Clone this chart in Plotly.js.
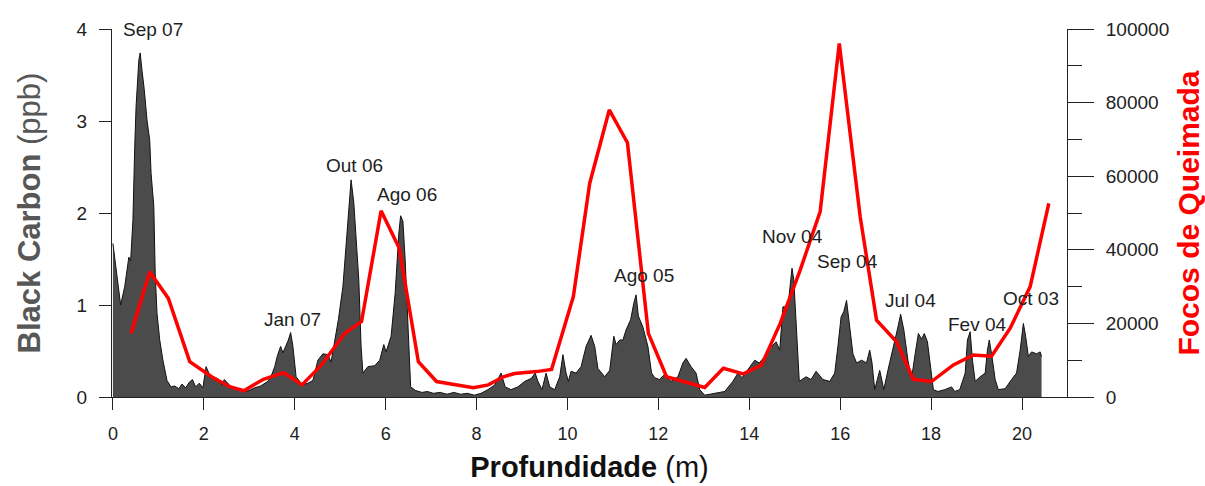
<!DOCTYPE html>
<html>
<head>
<meta charset="utf-8">
<script src="https://cdn.plot.ly/plotly-3.0.1.min.js"></script>
<style>
  html, body { margin: 0; padding: 0; background: #ffffff; }
  #chart { width: 1205px; height: 486px; }
</style>
</head>
<body>
<div id="chart"></div>
<script>
// Black carbon profile along the core (depth in m, concentration in ppb)
const depth = [0.00,0.07,0.17,0.26,0.35,0.39,0.44,0.48,0.51,0.57,0.60,0.64,0.69,0.75,0.81,0.84,0.90,0.93,0.97,1.03,
  1.10,1.19,1.28,1.36,1.45,1.52,1.60,1.68,1.75,1.82,1.90,1.98,2.05,2.12,2.20,2.30,2.40,2.45,2.53,2.62,
  2.75,2.90,3.00,3.12,3.25,3.41,3.50,3.56,3.62,3.69,3.74,3.80,3.86,3.91,3.96,4.03,4.10,4.14,4.22,4.29,
  4.40,4.51,4.62,4.73,4.80,4.88,4.96,5.06,5.13,5.21,5.24,5.30,5.35,5.41,5.46,5.50,5.61,5.76,5.87,5.96,
  6.01,6.12,6.21,6.29,6.33,6.38,6.43,6.49,6.55,6.66,6.80,6.92,7.05,7.20,7.35,7.50,7.65,7.80,7.95,8.10,
  8.25,8.40,8.54,8.63,8.76,8.91,9.06,9.20,9.29,9.35,9.44,9.53,9.61,9.72,9.83,9.90,9.97,10.02,10.08,10.19,
  10.30,10.41,10.52,10.60,10.67,10.82,10.93,11.02,11.07,11.15,11.22,11.29,11.39,11.46,11.51,11.56,11.66,11.77,11.85,11.92,
  12.02,12.13,12.28,12.43,12.54,12.61,12.72,12.83,12.91,13.02,13.24,13.46,13.64,13.75,13.84,13.97,14.08,14.12,14.22,14.34,
  14.45,14.59,14.67,14.74,14.85,14.89,14.94,14.98,15.03,15.07,15.10,15.25,15.36,15.47,15.62,15.77,15.88,15.95,16.02,16.08,
  16.14,16.21,16.28,16.36,16.47,16.58,16.65,16.70,16.76,16.87,16.96,17.05,17.16,17.27,17.33,17.40,17.49,17.57,17.65,17.72,
  17.79,17.85,17.92,17.97,18.05,18.15,18.30,18.45,18.52,18.63,18.75,18.80,18.86,18.91,18.97,19.08,19.19,19.24,19.28,19.33,
  19.41,19.48,19.63,19.77,19.88,19.96,20.03,20.08,20.14,20.21,20.32,20.40,20.43];
const blackCarbon = [1.67,1.41,1.00,1.20,1.52,1.48,1.92,2.72,3.16,3.66,3.74,3.55,3.34,3.01,2.79,2.43,2.07,1.35,0.91,0.62,
  0.40,0.18,0.11,0.12,0.09,0.14,0.10,0.16,0.19,0.11,0.15,0.10,0.33,0.25,0.22,0.20,0.13,0.19,0.15,0.10,
  0.08,0.06,0.07,0.10,0.12,0.17,0.25,0.33,0.45,0.55,0.48,0.55,0.62,0.70,0.55,0.22,0.17,0.15,0.14,0.15,
  0.18,0.40,0.47,0.46,0.38,0.60,0.84,1.20,1.67,2.18,2.36,2.11,1.74,1.27,0.55,0.26,0.33,0.34,0.40,0.57,
  0.49,0.66,1.13,1.78,1.97,1.91,1.49,0.76,0.11,0.07,0.05,0.06,0.04,0.05,0.03,0.05,0.03,0.04,0.02,0.04,
  0.08,0.13,0.26,0.11,0.08,0.11,0.17,0.20,0.26,0.17,0.08,0.26,0.11,0.08,0.22,0.46,0.26,0.17,0.28,0.26,
  0.33,0.55,0.67,0.55,0.31,0.22,0.29,0.66,0.57,0.62,0.62,0.73,0.84,1.02,1.11,0.88,0.76,0.55,0.26,0.21,
  0.19,0.24,0.17,0.22,0.37,0.42,0.33,0.26,0.08,0.02,0.04,0.06,0.17,0.26,0.21,0.30,0.37,0.40,0.37,0.44,
  0.53,0.60,0.51,0.98,0.98,1.20,1.40,1.27,0.84,0.51,0.17,0.22,0.19,0.28,0.19,0.17,0.26,0.55,0.87,0.93,
  1.05,0.76,0.47,0.37,0.40,0.37,0.51,0.37,0.08,0.29,0.08,0.29,0.51,0.76,0.90,0.73,0.40,0.20,0.47,0.69,
  0.63,0.69,0.60,0.40,0.08,0.06,0.08,0.11,0.06,0.08,0.26,0.62,0.71,0.40,0.17,0.22,0.26,0.51,0.62,0.47,
  0.19,0.08,0.09,0.19,0.26,0.51,0.80,0.66,0.44,0.49,0.47,0.49,0.44];

// Monthly fire counts placed on the depth scale
const fireDepth = [0.40,0.81,1.22,1.69,2.17,2.57,2.88,3.31,3.76,4.16,4.59,5.10,5.47,5.90,6.30,6.72,7.12,7.93,8.26,8.59,
  8.84,9.32,9.65,10.13,10.49,10.92,11.32,11.78,12.18,13.02,13.43,13.87,14.27,14.68,15.12,15.56,15.98,16.44,16.80,17.24,
  17.61,18.01,18.49,18.93,19.33,19.74,20.18,20.59];
const fireCounts = [17300,34000,26800,9600,5500,2800,1700,4800,6600,3300,8700,17300,20500,50600,40400,9600,4200,2500,3300,5500,
  6400,6900,7500,27300,58100,78000,69100,17300,5500,2600,7800,6300,8700,20000,34500,50400,96100,49000,20900,15000,
  4800,4200,8700,11400,11100,18700,30000,52600];

// Month labels and where they sit (depth, ppb)
const monthLabels = ["Sep 07","Jan 07","Out 06","Ago 06","Ago 05","Nov 04","Sep 04","Jul 04","Fev 04","Oct 03"];
const labelDepth  = [0.88, 3.96, 5.32, 6.47, 11.68, 14.94, 16.17, 17.54, 19.03, 20.20];
const labelLevel  = [3.99, 0.84, 2.52, 2.20, 1.32, 1.75, 1.47, 1.05, 0.79, 1.07];

const FONT = "Liberation Sans, Arial, Helvetica, sans-serif";

const traces = [
  {
    x: depth, y: blackCarbon, type: "scatter", mode: "lines",
    fill: "tozeroy", fillcolor: "#4b4b4b",
    line: { color: "#111111", width: 1 },
    hoverinfo: "skip"
  },
  {
    x: fireDepth, y: fireCounts, type: "scatter", mode: "lines", yaxis: "y2",
    line: { color: "#ff0000", width: 3.5 },
    hoverinfo: "skip"
  }
];

const annotations = monthLabels.map((t, i) => ({
  x: labelDepth[i], y: labelLevel[i], xref: "x", yref: "y",
  text: t, showarrow: false,
  font: { family: FONT, size: 19, color: "#1e1e1e" }
}));

const layout = {
  width: 1205, height: 486,
  margin: { l: 112, r: 138, t: 29, b: 89, pad: 0 },
  paper_bgcolor: "#ffffff", plot_bgcolor: "#ffffff",
  showlegend: false,
  font: { family: FONT, size: 18, color: "#222222" },
  xaxis: {
    range: [-0.02, 20.99], dtick: 2, tick0: 0,
    showgrid: false, zeroline: false,
    showline: true, linecolor: "#222222", linewidth: 1,
    ticks: "outside", ticklen: 12, tickcolor: "#222222",
    ticklabelstandoff: 8,
    tickfont: { family: FONT, size: 18, color: "#222222" },
    title: { text: "<b>Profundidade</b> (m)", font: { family: FONT, size: 29, color: "#111111" }, standoff: 14 }
  },
  yaxis: {
    range: [0, 4], dtick: 1, tick0: 0,
    showgrid: false, zeroline: false,
    showline: true, linecolor: "#222222", linewidth: 1,
    ticks: "outside", ticklen: 12, tickcolor: "#222222",
    ticklabelstandoff: 8,
    tickfont: { family: FONT, size: 19, color: "#222222" },
    title: { text: "<b>Black Carbon</b> (ppb)", font: { family: FONT, size: 31, color: "#575757" }, standoff: 26 }
  },
  yaxis2: {
    overlaying: "y", side: "right",
    range: [0, 100000], dtick: 20000, tick0: 0,
    tickformat: "d",
    showgrid: false, zeroline: false,
    showline: true, linecolor: "#222222", linewidth: 1,
    ticks: "outside", ticklen: 26, tickcolor: "#222222",
    minor: { dtick: 10000, ticks: "outside", ticklen: 14, tickcolor: "#222222", showgrid: false },
    ticklabelstandoff: 8,
    tickfont: { family: FONT, size: 19, color: "#222222" },
    title: { text: "<b>Focos de Queimada</b>", font: { family: FONT, size: 30, color: "#ff0000" }, standoff: 14 }
  },
  annotations: annotations
};

Plotly.newPlot("chart", traces, layout, { staticPlot: true, displayModeBar: false });
</script>
</body>
</html>
